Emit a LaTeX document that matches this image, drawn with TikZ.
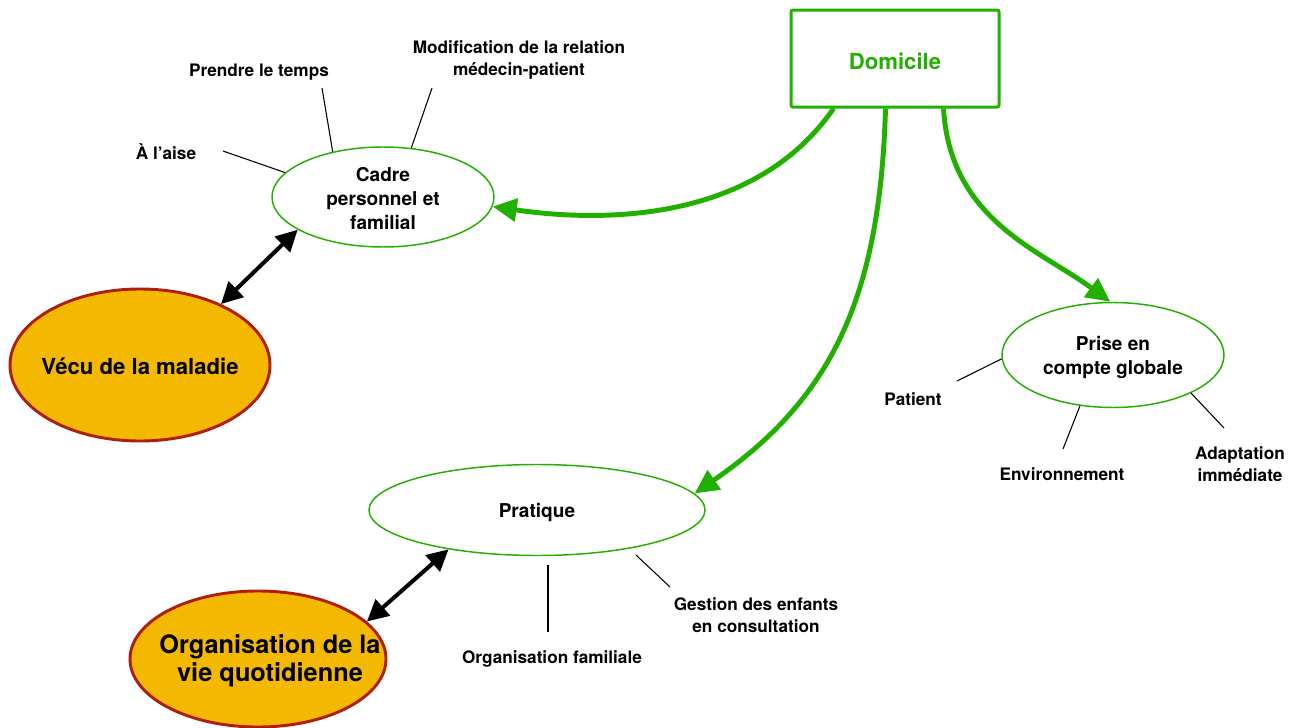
\documentclass[tikz,border=0pt]{standalone}
\usepackage{fontspec}
\setmainfont{TeX Gyre Heros}
\usetikzlibrary{shapes.geometric,arrows.meta,calc}
\definecolor{dgreen}{RGB}{34,176,0}
\definecolor{morange}{RGB}{245,184,0}
\definecolor{mred}{RGB}{176,30,10}
\begin{document}
\begin{tikzpicture}[x=0.75pt,y=-0.75pt,
  every node/.style={font=\bfseries},
  topic/.style={ellipse,draw=dgreen,line width=1.1pt,inner sep=0pt},
  topictext/.style={align=center,inner sep=0pt,yshift=-1.5pt,
    font=\fontsize{14.3}{18}\selectfont\bfseries},
  core/.style={ellipse,draw=mred,fill=morange,line width=2.2pt,inner sep=0pt},
  coretext/.style={align=center,inner sep=0pt,font=\fontsize{16.6}{21}\selectfont\bfseries},
  lbl/.style={align=center,inner sep=0pt,font=\fontsize{12.9}{16.5}\selectfont\bfseries},
  spoke/.style={draw=black,line width=0.8pt},
  garrow/.style={draw=dgreen,line width=3.7pt,-{Triangle[length=18pt,width=17pt]}},
  barrow/.style={draw=black,line width=3pt,{Triangle[length=16pt,width=16pt]}-{Triangle[length=16pt,width=16pt]}}
]
\useasboundingbox (0,0) rectangle (1303,728);

\node[draw=dgreen,line width=2.25pt,rounded corners=1.5pt,minimum width=156pt,minimum height=72.75pt,
  label={[text=dgreen,font=\fontsize{16.6}{20}\selectfont\bfseries,yshift=-1.8pt]center:Domicile}] (dom) at (895,58.5) {};

\node[topic,minimum width=166.5pt,minimum height=75pt,
  label={[topictext]center:Cadre\\personnel et\\familial}] (cadre) at (383,197) {};
\node[core,minimum width=195pt,minimum height=114pt,
  label={[coretext,yshift=-1.2pt]center:Vécu de la maladie}] (vecu) at (140,365) {};
\node[topic,minimum width=166.5pt,minimum height=78.75pt,
  label={[topictext]center:Prise en\\compte globale}] (prise) at (1113,355) {};
\node[topic,minimum width=252pt,minimum height=68.25pt,
  label={[topictext]center:Pratique}] (prat) at (537,510) {};
\node[core,minimum width=192pt,minimum height=102pt,
  label={[coretext,xshift=9pt,yshift=-1.5pt,font=\fontsize{19}{21}\selectfont\bfseries]center:Organisation de la\\vie quotidienne}] (org) at (258,659) {};

% labels
\node[lbl] (laise) at (166,152) {À l’aise};
\node[lbl] (temps) at (259,72) {Prendre le temps};
\node[lbl] (modif) at (519,60) {Modification de la relation\\médecin-patient};
\node[lbl] (pat) at (913,399) {Patient};
\node[lbl] (env) at (1062,474) {Environnement};
\node[lbl] (adapt) at (1240,464) {Adaptation\\immédiate};
\node[lbl] (orgf) at (552,659) {Organisation familiale};
\node[lbl] (gest) at (756,615) {Gestion des enfants\\en consultation};

% free ends of spokes
\coordinate (cA) at (223,151);
\coordinate (cT) at (322,88);
\coordinate (cM) at (432,88);
\coordinate (cP) at (957,381);
\coordinate (cE) at (1063,449);
\coordinate (cI) at (1224,428);
\coordinate (cO1) at (548,565);
\coordinate (cO2) at (548,632);
\coordinate (cG1) at (636,555);
\coordinate (cG2) at (670,587);

\draw[spoke] (cA) -- (cadre.166);
\draw[spoke] (cT) -- (cadre.138);
\draw[spoke] (cM) -- (cadre.60);
\draw[spoke] (cP) -- (prise.182);
\draw[spoke] (cE) -- (prise.237);
\draw[spoke] (cI) -- (prise.334);
\draw[spoke] (cO1) -- (cO2);
\draw[spoke] (cG1) -- (cG2);

% green arrows
\draw[garrow] ($(dom.south west)+(44,0)$) .. controls (760,215) and (620,225) .. (cadre.-5);
\draw[garrow] ($(dom.south west)+(96,0)$) .. controls (880,300) and (830,400) .. (prat.6);
\draw[garrow] ($(dom.south west)+(154,0)$) .. controls (950,220) and (1040,250) .. (prise.93);

% black double arrows
\draw[barrow] (vecu.37) -- (cadre.201);
\draw[barrow] (org.19) -- (prat.204);
\end{tikzpicture}
\end{document}
